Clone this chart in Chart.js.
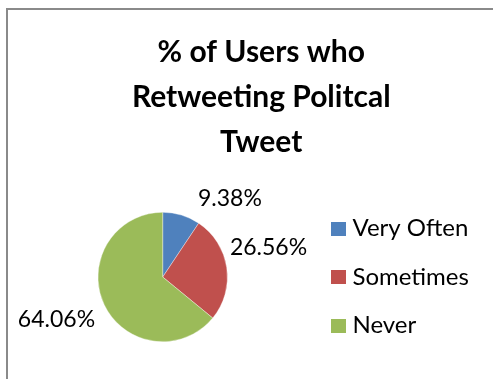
<!DOCTYPE html>
<html>
<head>
<meta charset="utf-8">
<title>% of Users who Retweeting Politcal Tweet</title>
<script src="https://cdn.jsdelivr.net/npm/chart.js@4"></script>
<style>
  html, body { margin: 0; padding: 0; background: #fff; overflow: hidden; width: 493px; height: 379px; }
  #frame { position: absolute; left: 6px; top: 8px; width: 700px; height: 600px;
           border-left: 2px solid #8a8a8a; border-top: 2px solid #8a8a8a; box-sizing: border-box; }
  #chart { position: absolute; left: 0; top: 0; }
</style>
</head>
<body>
<div id="frame"></div>
<canvas id="chart" width="510" height="379"></canvas>
<script>
// Survey answers and their share of users (percent)
const categories = ['Very Often', 'Sometimes', 'Never'];
const shares = [9.38, 26.56, 64.06];
const titleLines = ['% of Users who', 'Retweeting Politcal', 'Tweet'];

const FONT = 'Lato';

// Square legend swatch, drawn as an image point style
function swatch(color) {
  const c = document.createElement('canvas');
  c.width = 15; c.height = 14;
  const g = c.getContext('2d');
  g.fillStyle = color;
  g.fillRect(0, 0, 15, 14);
  return c;
}

// Percentage labels set just outside each slice.
// angle: direction from the slice's outer edge (degrees, clockwise from up); dist: distance in px
const outsideLabels = {
  id: 'outsideLabels',
  afterDatasetsDraw(chart, args, opts) {
    const ctx = chart.ctx;
    const meta = chart.getDatasetMeta(0);
    const values = chart.data.datasets[0].data;
    ctx.save();
    ctx.font = opts.size + 'px ' + FONT;
    ctx.fillStyle = opts.color;
    ctx.textAlign = 'center';
    ctx.textBaseline = 'middle';
    meta.data.forEach((arc, i) => {
      const p = arc.getProps(['x', 'y', 'startAngle', 'endAngle', 'outerRadius'], true);
      const mid = (p.startAngle + p.endAngle) / 2;
      const ax = p.x + Math.cos(mid) * p.outerRadius;
      const ay = p.y + Math.sin(mid) * p.outerRadius;
      const place = opts.placement[i];
      const a = place.angle * Math.PI / 180;
      const lx = ax + Math.sin(a) * place.dist;
      const ly = ay - Math.cos(a) * place.dist;
      ctx.fillText(values[i].toFixed(2) + '%', lx, ly);
    });
    ctx.restore();
  }
};

function build() {
  const baseLabels = Chart.overrides.doughnut.plugins.legend.labels.generateLabels;
  new Chart(document.getElementById('chart'), {
    type: 'pie',
    data: {
      labels: categories,
      datasets: [{
        data: shares,
        backgroundColor: ['#4F81BD', '#C0504D', '#9BBB59'],
        borderColor: 'rgba(255,255,255,0.6)',
        borderWidth: 0.6,
        radius: 64.7
      }]
    },
    options: {
      responsive: false,
      devicePixelRatio: 1,
      animation: false,
      events: [],
      layout: { padding: { left: 12.5, right: 0, top: 0, bottom: 0 } },
      plugins: {
        title: {
          display: true,
          text: titleLines,
          color: '#000',
          font: { family: FONT, weight: 'bold', size: 30, lineHeight: 1.5 },
          padding: { top: 29.5, bottom: 10.5 }
        },
        // empty box on the far right that keeps the legend away from the edge
        subtitle: {
          display: true,
          position: 'right',
          text: '',
          padding: 0,
          font: { family: FONT, size: 31.1, lineHeight: 1 }
        },
        legend: {
          position: 'right',
          fullSize: false,
          maxWidth: 400,
          labels: {
            color: '#000',
            font: { family: FONT, size: 24 },
            padding: 24.5,
            usePointStyle: true,
            pointStyleWidth: 3,
            generateLabels(chart) {
              return baseLabels(chart).map(item => Object.assign(item, { pointStyle: swatch(item.fillStyle) }));
            }
          }
        },
        tooltip: { enabled: false },
        outsideLabels: {
          size: 23,
          color: '#000',
          placement: [
            { angle: 71.1, dist: 51.2 },
            { angle: 65.0, dist: 46.1 },
            { angle: 252.8, dist: 50.0 }
          ]
        }
      }
    },
    plugins: [outsideLabels]
  });
}

Promise.all([
  document.fonts.load('24px ' + FONT),
  document.fonts.load('bold 30px ' + FONT)
]).then(build, build);
</script>
</body>
</html>
